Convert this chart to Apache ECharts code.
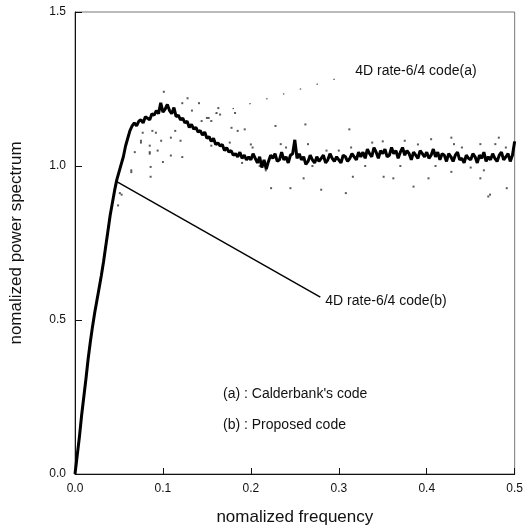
<!DOCTYPE html>
<html>
<head>
<meta charset="utf-8">
<script src="https://cdn.jsdelivr.net/npm/echarts@6/dist/echarts.min.js"></script>
<style>
html, body { margin: 0; padding: 0; background: #fff; }
#main { width: 526px; height: 531px; }
</style>
</head>
<body>
<div id="main"></div>
<script>
var myChart = echarts.init(document.getElementById('main'));

// normalized frequency step of the proposed-code curve (b)
var freqStep = 0.0025;

// power spectrum of (b), one value every freqStep from 0.0 to 0.5 (10 per row)
var spectrumB = [
    0, 0.06, 0.12, 0.19, 0.25, 0.31, 0.375, 0.43, 0.48, 0.525,
    0.565, 0.605, 0.645, 0.69, 0.74, 0.79, 0.84, 0.88, 0.92, 0.955,
    0.98, 1.005, 1.03, 1.065, 1.09, 1.115, 1.13, 1.14, 1.13, 1.145,
    1.15, 1.14, 1.16, 1.155, 1.15, 1.17, 1.165, 1.18, 1.17, 1.205,
    1.175, 1.185, 1.2, 1.18, 1.17, 1.19, 1.16, 1.165, 1.15, 1.155,
    1.14, 1.145, 1.125, 1.135, 1.12, 1.125, 1.11, 1.115, 1.1, 1.11,
    1.09, 1.095, 1.08, 1.09, 1.07, 1.075, 1.065, 1.07, 1.05, 1.06,
    1.045, 1.05, 1.035, 1.04, 1.03, 1.045, 1.025, 1.035, 1.02, 1.03,
    1.02, 1.04, 1.025, 1.01, 1.03, 0.995, 1.02, 0.99, 1.015, 1.035,
    1.025, 1.04, 1.015, 1.02, 1.045, 1.02, 1.03, 1.01, 1.035, 1.04,
    1.085, 1.025, 1.04, 1.02, 1.03, 1.005, 1.015, 1.035, 1.02, 1.01,
    1.03, 1.015, 1.025, 1.035, 1.01, 1.02, 1.04, 1.025, 1.015, 1.03,
    1.02, 1.01, 1.035, 1.03, 1.015, 1.025, 1.04, 1.03, 1.02, 1.045,
    1.03, 1.045, 1.025, 1.055, 1.04, 1.03, 1.06, 1.045, 1.025, 1.05,
    1.04, 1.055, 1.03, 1.035, 1.06, 1.04, 1.05, 1.025, 1.045, 1.06,
    1.035, 1.05, 1.04, 1.02, 1.045, 1.035, 1.025, 1.05, 1.04, 1.03,
    1.045, 1.025, 1.035, 1.055, 1.03, 1.045, 1.02, 1.04, 1.035, 1.015,
    1.04, 1.03, 1.015, 1.035, 1.045, 1.02, 1.025, 1.01, 1.035, 1.025,
    1.02, 1.04, 1.03, 1.01, 1.035, 1.025, 1.045, 1.015, 1.03, 1.02,
    1.04, 1.025, 1.015, 1.035, 1.045, 1.02, 1.03, 1.04, 1.015, 1.035,
    1.08
];

// Calderbank's code (a): surviving dots of the dotted trace
var dotsA = [
    [0.029, 0.63], [0.049, 0.872], [0.051, 0.912], [0.053, 0.907], [0.064, 0.98],
    [0.064, 0.986], [0.068, 1.045], [0.075, 1.076], [0.075, 1.082], [0.077, 1.108],
    [0.085, 1.045], [0.085, 1.066], [0.085, 1.04], [0.086, 0.997], [0.086, 0.965],
    [0.088, 1.114], [0.092, 1.108], [0.094, 1.05], [0.098, 1.082], [0.10, 1.013],
    [0.101, 1.241], [0.109, 1.092], [0.109, 1.034], [0.114, 1.114], [0.12, 1.082],
    [0.122, 1.029], [0.122, 1.204], [0.128, 1.22], [0.133, 1.18], [0.141, 1.204],
    [0.144, 1.146], [0.15, 1.156], [0.152, 1.156], [0.155, 1.146], [0.155, 1.066],
    [0.161, 1.172], [0.163, 1.188], [0.165, 1.167], [0.176, 1.076], [0.178, 1.124],
    [0.182, 1.172], [0.185, 1.114], [0.19, 1.01], [0.193, 1.119], [0.2, 1.07],
    [0.202, 1.06], [0.21, 1.0], [0.217, 0.986], [0.223, 0.928], [0.228, 1.13],
    [0.234, 1.071], [0.24, 1.06], [0.245, 0.928], [0.26, 0.96], [0.262, 1.135],
    [0.265, 1.071], [0.27, 1.0], [0.28, 0.923], [0.286, 1.05], [0.3, 1.05],
    [0.308, 0.912], [0.312, 1.119], [0.314, 1.06], [0.316, 0.965], [0.33, 1.0],
    [0.338, 1.076], [0.35, 1.08], [0.351, 0.965], [0.362, 0.96], [0.37, 1.0],
    [0.375, 1.082], [0.385, 0.933], [0.39, 1.07], [0.402, 0.96], [0.405, 1.087],
    [0.41, 1.0], [0.428, 1.092], [0.428, 0.981], [0.431, 1.071], [0.44, 1.06],
    [0.45, 0.995], [0.461, 1.071], [0.461, 0.96], [0.465, 0.986], [0.47, 0.901],
    [0.472, 0.907], [0.478, 1.071], [0.482, 1.092], [0.49, 1.06], [0.491, 0.928]
];

// leader lines pointing to the curve labels
var leaderA = [[0.16, 1.17], [0.305, 1.29]];
var leaderB = [[0.047, 0.95], [0.279, 0.574]];
var labelA = '4D rate-6/4 code(a)';
var labelB = '4D rate-6/4 code(b)';

var xTicks = [0, 0.1, 0.2, 0.3, 0.4, 0.5];
var yTicks = [0, 0.5, 1.0, 1.5];

var curveB = spectrumB.map(function (v, i) { return [i * freqStep, v]; });

var font = 'Liberation Sans, Arial, sans-serif';

var option = {
    animation: false,
    backgroundColor: '#fff',
    grid: {
        left: 71, right: 7, top: 12, bottom: 48,
        show: true, borderColor: '#777', borderWidth: 1
    },
    xAxis: {
        type: 'value',
        min: xTicks[0], max: xTicks[xTicks.length - 1], interval: 0.1,
        name: 'nomalized frequency',
        nameLocation: 'middle', nameGap: 35,
        nameTextStyle: { fontFamily: font, fontSize: 17, color: '#111' },
        axisLine: { lineStyle: { color: '#111', width: 1 } },
        axisTick: { inside: true, length: 6, lineStyle: { color: '#111' } },
        axisLabel: {
            margin: 9, fontFamily: font, fontSize: 12, color: '#111',
            formatter: function (v) { return v.toFixed(1); }
        },
        splitLine: { show: false }
    },
    yAxis: {
        type: 'value',
        min: yTicks[0], max: yTicks[yTicks.length - 1], interval: 0.5,
        name: 'nomalized power spectrum',
        nameLocation: 'middle', nameGap: 50,
        nameTextStyle: { fontFamily: font, fontSize: 17, color: '#111' },
        axisLine: { lineStyle: { color: '#111', width: 1 } },
        axisTick: { inside: true, length: 7, lineStyle: { color: '#111' } },
        axisLabel: {
            margin: 9, fontFamily: font, fontSize: 12, color: '#111',
            formatter: function (v) { return v.toFixed(1); }
        },
        splitLine: { show: false }
    },
    series: [
        {
            name: "Calderbank's code",
            type: 'scatter',
            data: dotsA,
            symbol: 'rect',
            symbolSize: 2,
            itemStyle: { color: '#333' },
            silent: true
        },
        {
            name: 'leader a',
            type: 'line',
            data: leaderA,
            symbol: 'none',
            lineStyle: { color: '#555', width: 1.2, type: [1.5, 16] },
            endLabel: {
                show: true, formatter: labelA, distance: 12, offset: [0, -6],
                fontFamily: font, fontSize: 14, color: '#111'
            },
            silent: true
        },
        {
            name: 'Proposed code',
            type: 'line',
            data: curveB,
            symbol: 'none',
            lineStyle: { color: '#000', width: 3 },
            silent: true
        },
        {
            name: 'leader b',
            type: 'line',
            data: leaderB,
            symbol: 'none',
            lineStyle: { color: '#000', width: 1.4 },
            endLabel: {
                show: true, formatter: labelB, distance: 5, offset: [0, 4],
                fontFamily: font, fontSize: 14, color: '#111'
            },
            silent: true
        }
    ],
    graphic: [
        {
            type: 'text', left: 223, top: 387,
            style: { text: "(a) : Calderbank's code", font: '14px ' + font, fill: '#111' }
        },
        {
            type: 'text', left: 223, top: 418,
            style: { text: '(b) : Proposed code', font: '14px ' + font, fill: '#111' }
        }
    ]
};

myChart.setOption(option);
</script>
</body>
</html>
